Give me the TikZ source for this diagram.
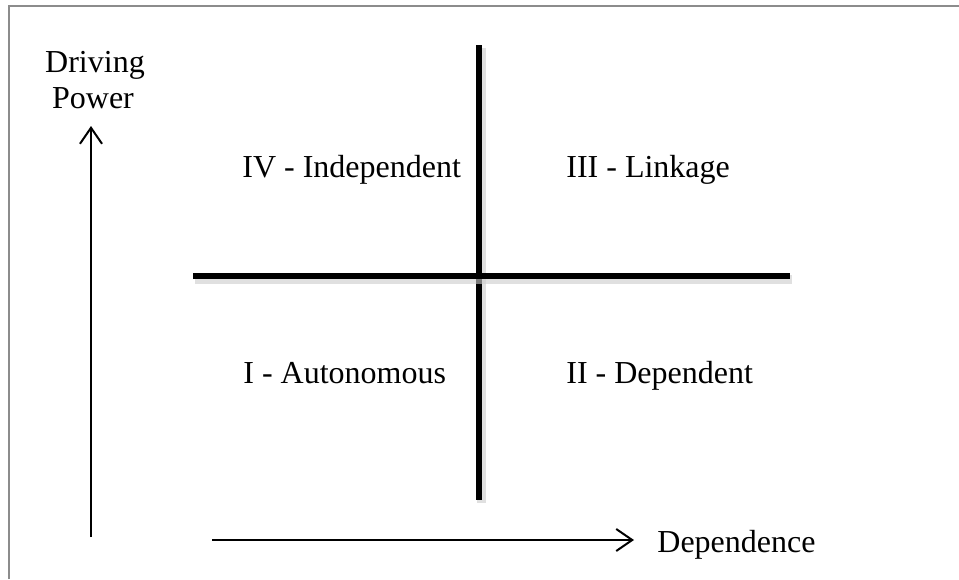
\documentclass[tikz,border=0pt]{standalone}
\usepackage{fontspec}
\setmainfont{Liberation Serif}
\usetikzlibrary{positioning}
\usetikzlibrary{arrows.meta}
\def\thickness{2.8pt}
\tikzset{
quadline/.style={
	line width=\thickness, black,
	preaction={draw=black!20, line width=4.5pt, opacity=0.6, transform canvas={shift={(1pt,-1.5pt)}}}
},
axisarrow/.style={
	line width=1pt, -{Straight Barb[length=8pt,width=11pt]}
},
quadlabel/.style={font=\fontsize{16}{19}\selectfont, inner sep=0pt, anchor=base west},
axislabel/.style={font=\fontsize{16}{19}\selectfont, inner sep=0pt, anchor=base},
}

\begin{document}
\begin{tikzpicture}[x=0.5pt, y=-0.5pt]
\useasboundingbox (0,0) rectangle (959,579);
% frame
\draw[black!45, line width=1.1pt] (9,579) -- (9,6) -- (959,6);

%Place the nodes
\coordinate (vtop) at (479,45);
\coordinate (vbot) at (479,500);
\coordinate (hleft) at (193,276);
\coordinate (hright) at (790,276);

\node[quadlabel] (indep) at (242,177) {IV - Independent};
\node[quadlabel] (link) at (566,177) {III - Linkage};
\node[quadlabel] (auto) at (243,383) {I - Autonomous};
\node[quadlabel] (dep) at (566,383) {II - Dependent};

\node[axislabel] (drive) at (95,72) {Driving};
\node[axislabel] (power) at (93,108) {Power};
\node[axislabel, anchor=base west] (depax) at (657,552) {Dependence};

\coordinate (ybot) at (91,537);
\coordinate (ytop) at (91,126);
\coordinate (xleft) at (212,540);
\coordinate (xright) at (634,540);

% quadrant lines
\draw[quadline] (vtop) -- (vbot);
\draw[quadline] (hleft) -- (hright);

% axes
\draw[axisarrow] (ybot) -- (ytop);
\draw[axisarrow] (xleft) -- (xright);

\end{tikzpicture}
\end{document}
